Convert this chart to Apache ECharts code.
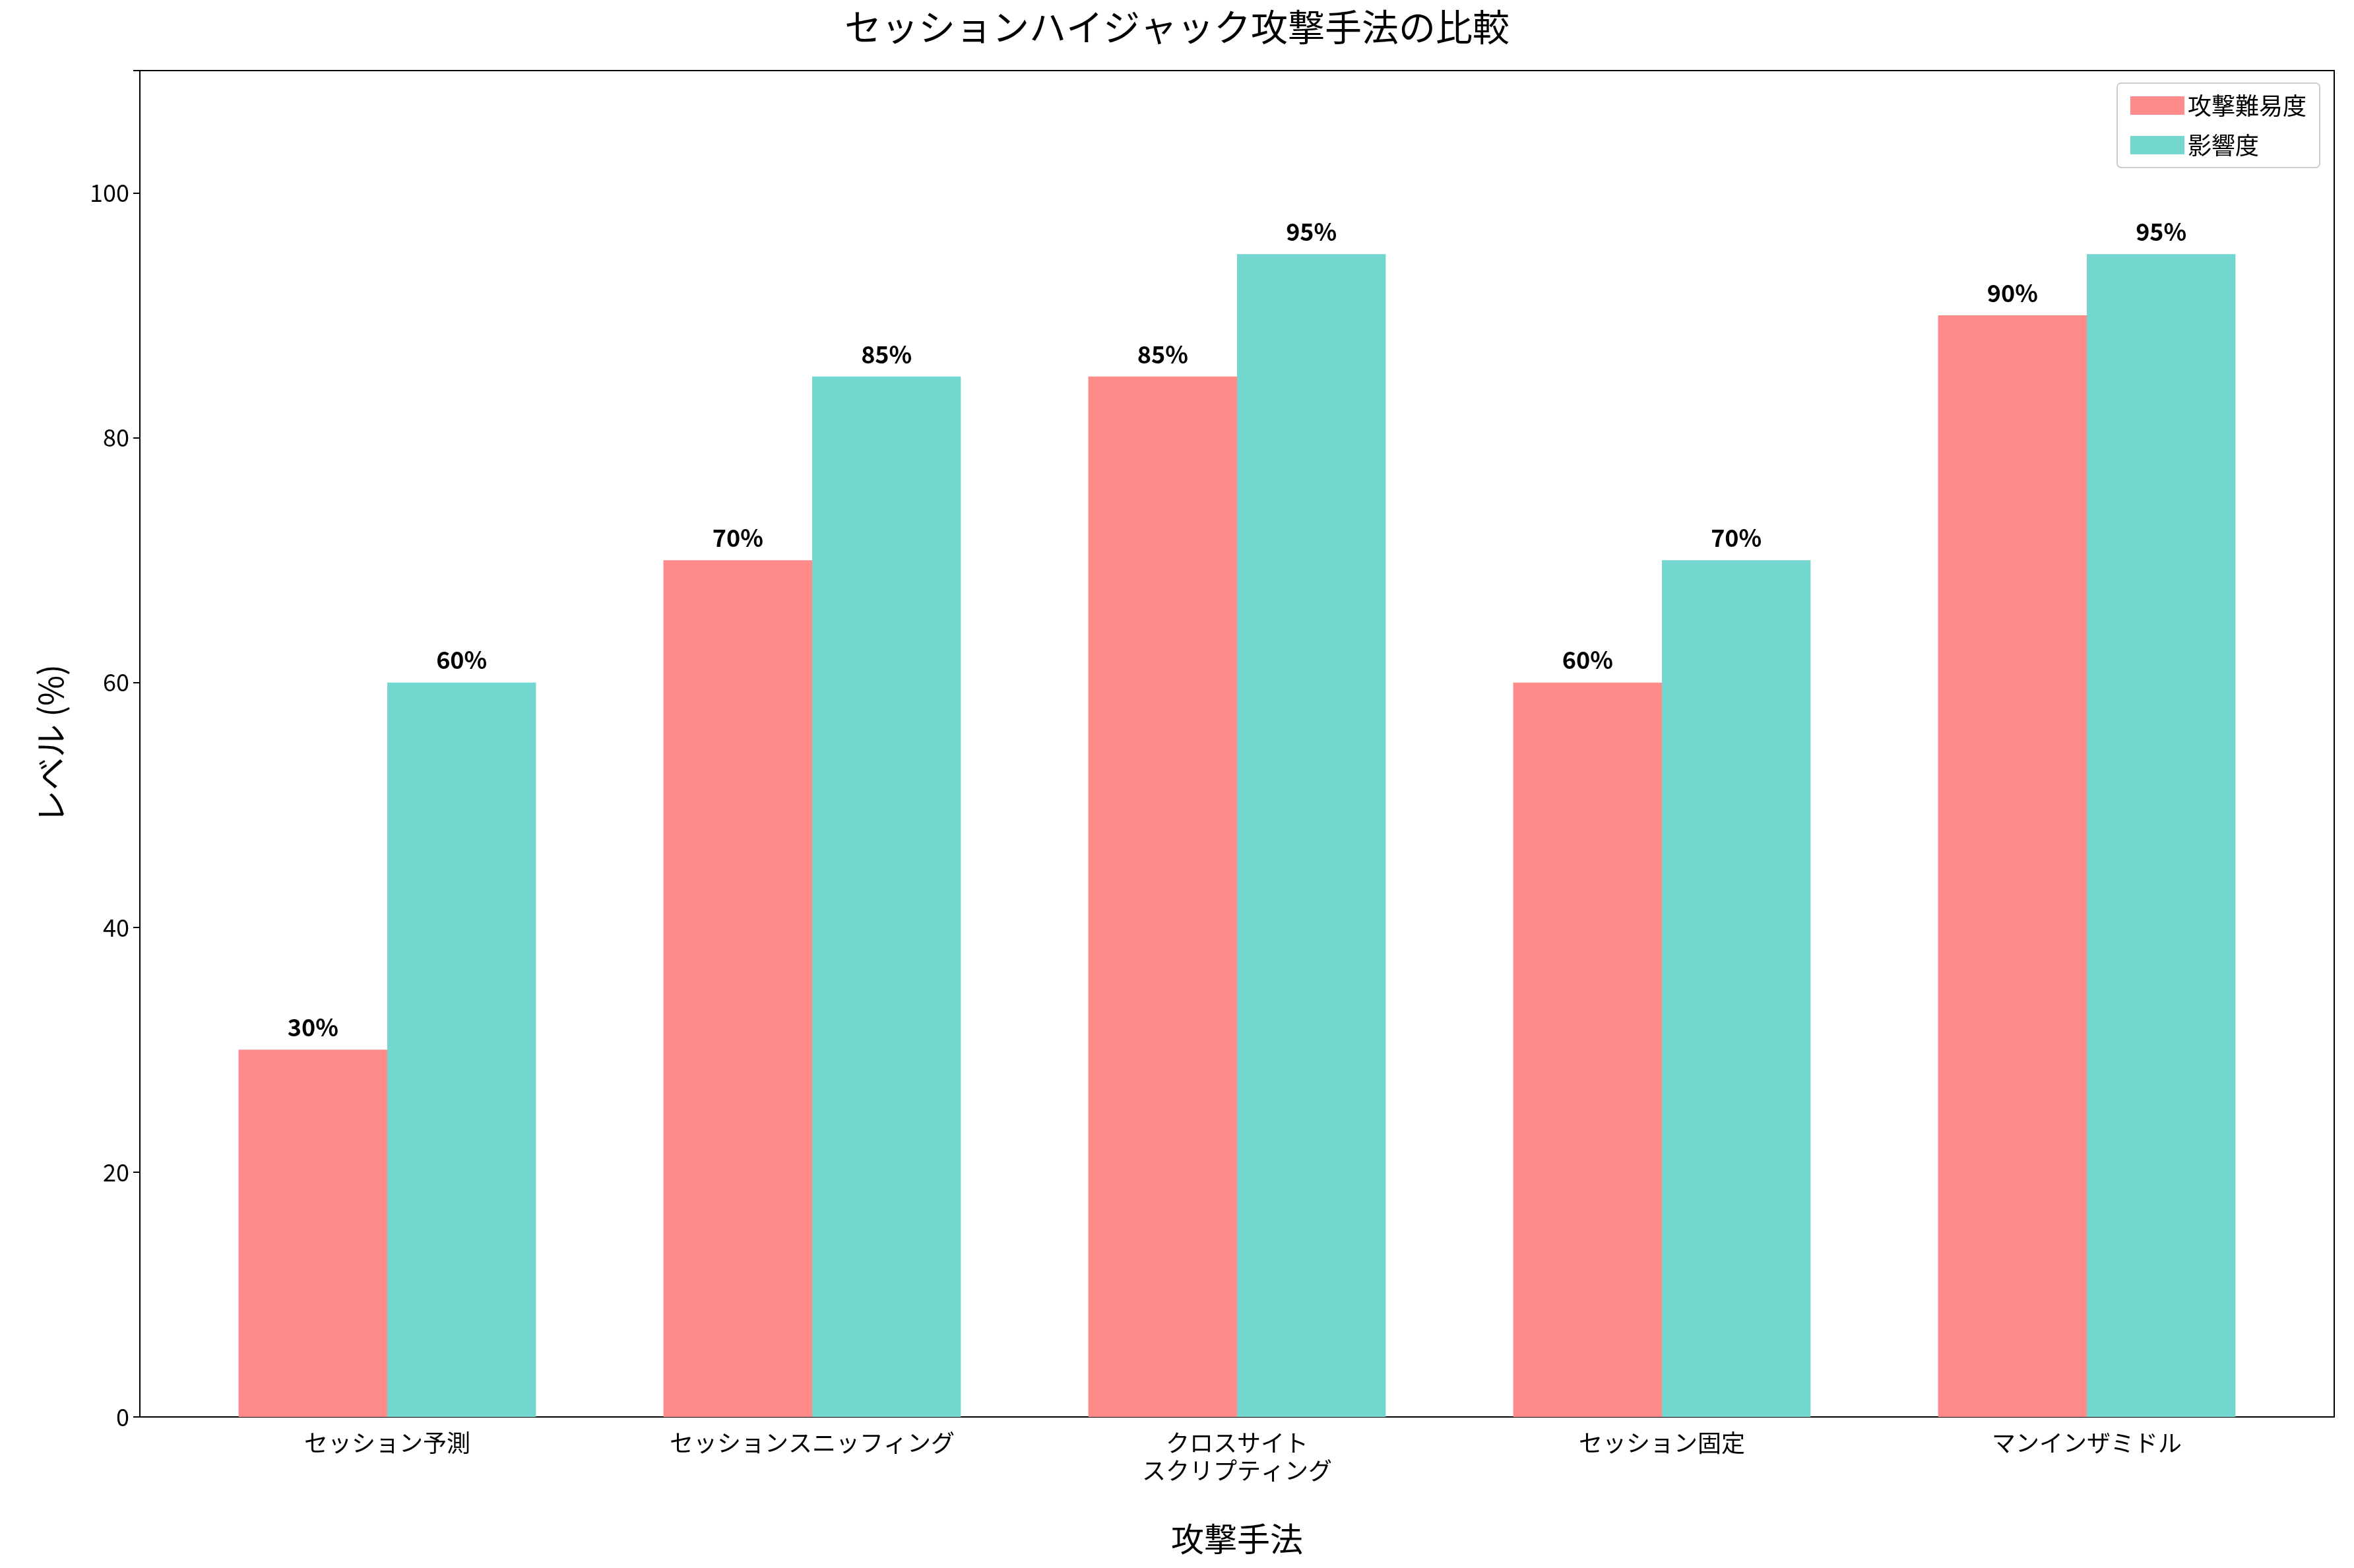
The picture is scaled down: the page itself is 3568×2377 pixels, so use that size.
<!DOCTYPE html>
<html><head><meta charset="utf-8">
<script src="https://cdn.jsdelivr.net/npm/echarts@6/dist/echarts.min.js"></script>
<style>html,body{margin:0;background:#fff}#c{width:3568px;height:2377px}</style>
</head><body><div id="c"></div>
<script>
const categories = ['セッション予測', 'セッションスニッフィング', 'クロスサイト\nスクリプティング', 'セッション固定', 'マンインザミドル'];
const difficulty = [30, 70, 85, 60, 90];
const impact = [60, 85, 95, 70, 95];
const seriesNames = ['攻撃難易度', '影響度'];

const font = '"Noto Sans CJK JP", "DejaVu Sans", sans-serif';
const chart = echarts.init(document.getElementById('c'));
const label = {
    show: true, position: 'top', distance: 16, formatter: '{c}%',
    fontWeight: 'bold', fontSize: 36, color: '#000', fontFamily: font
};
chart.setOption({
    animation: false,
    title: {
        text: 'セッションハイジャック攻撃手法の比較', left: 'center', top: 8,
        textStyle: { fontSize: 56, fontWeight: 'normal', color: '#000', fontFamily: font }
    },
    legend: {
        data: seriesNames, orient: 'vertical', right: 52, top: 126,
        itemWidth: 82, itemHeight: 28, itemGap: 24, padding: [16, 20],
        borderColor: '#ccc', borderWidth: 2, borderRadius: 6,
        textStyle: { fontSize: 36, color: '#000', fontFamily: font },
        icon: 'rect'
    },
    grid: { left: 265, right: 83, top: 107, bottom: 229 },
    xAxis: {
        type: 'category', data: categories,
        name: '攻撃手法', nameLocation: 'middle', nameGap: 160,
        nameTextStyle: { fontSize: 50, color: '#000', fontFamily: font },
        axisLine: { lineStyle: { color: '#000', width: 2 } },
        axisTick: { alignWithLabel: true, length: 10, lineStyle: { color: '#000', width: 2 } },
        axisLabel: { fontSize: 36, color: '#000', margin: 18, lineHeight: 42, fontFamily: font }
    },
    yAxis: {
        type: 'value', min: 0, max: 110, interval: 20, offset: 53,
        name: 'レベル (%)', nameLocation: 'middle', nameGap: 110,
        nameTextStyle: { fontSize: 50, color: '#000', fontFamily: font },
        axisLine: { show: true, lineStyle: { color: '#000', width: 2 } },
        axisTick: { show: true, length: 10, lineStyle: { color: '#000', width: 2 } },
        axisLabel: { fontSize: 36, color: '#000', margin: 16, fontFamily: font,
            formatter: v => v > 100 ? '' : v },
        splitLine: { show: false }
    },
    series: [
        { name: seriesNames[0], type: 'bar', data: difficulty, barGap: '0%', barCategoryGap: '30%',
          itemStyle: { color: '#ff8a8a' }, label },
        { name: seriesNames[1], type: 'bar', data: impact,
          itemStyle: { color: '#73d6cf' }, label }
    ],
    graphic: [{ type: 'rect', shape: { x: 212, y: 107, width: 3568 - 242, height: 2377 - 336 },
        style: { fill: 'none', stroke: '#000', lineWidth: 2 }, silent: true }]
});
</script></body></html>
